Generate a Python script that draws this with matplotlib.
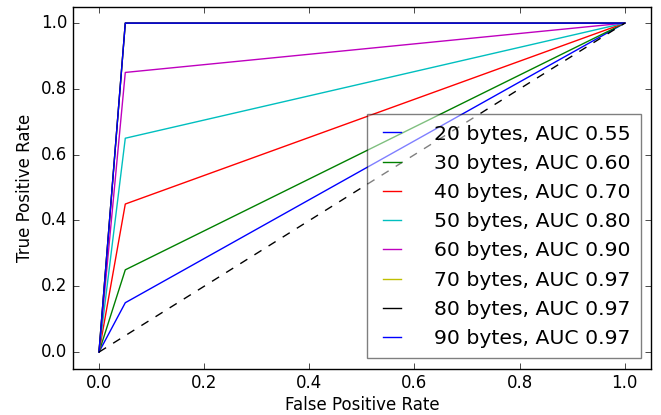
import matplotlib
matplotlib.use('Agg')
import matplotlib.pyplot as plt

# ROC points: (0,0) -> (fpr, tpr) -> (1,1)
sizes = [20, 30, 40, 50, 60, 70, 80, 90]
aucs = [0.55, 0.60, 0.70, 0.80, 0.90, 0.97, 0.97, 0.97]
fpr_mid = [0.05, 0.05, 0.05, 0.05, 0.05, 0.05, 0.05, 0.05]
tpr_mid = [0.15, 0.25, 0.45, 0.65, 0.85, 1.0, 1.0, 1.0]
colors = ['b', 'g', 'r', 'c', 'm', 'y', 'k', 'b']

plt.style.use('classic')
plt.rcParams['font.size'] = 12

fig = plt.figure(figsize=(6.61, 4.15), dpi=100)
ax = fig.add_axes([0.11, 0.112, 0.875, 0.872])

for s, a, fx, ty, c in zip(sizes, aucs, fpr_mid, tpr_mid, colors):
    ax.plot([0, fx, 1], [0, ty, 1], color=c, label='%d bytes, AUC %.2f' % (s, a))
ax.plot([0, 1], [0, 1], 'k--')

ax.set_xlim(-0.05, 1.05)
ax.set_ylim(-0.05, 1.05)
ax.set_xlabel('False Positive Rate', labelpad=3)
ax.set_ylabel('True Positive Rate')
leg = ax.legend(loc='lower right', fontsize=14.7, framealpha=0.5,
                handlelength=1.5, handletextpad=1.3, labelspacing=0.5,
                borderpad=0.5)

fig.savefig('out.png', dpi=100)
